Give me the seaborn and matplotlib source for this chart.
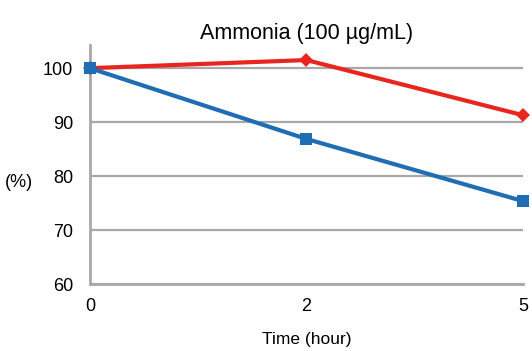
import matplotlib
matplotlib.use("Agg")
import matplotlib.pyplot as plt
import seaborn as sns
import pandas as pd

times = ["0", "2", "5"]
red_values = [100, 101.5, 91.3]
blue_values = [100, 86.9, 75.4]

df = pd.DataFrame({
    "Time": times * 2,
    "Value": red_values + blue_values,
    "Series": ["red"] * 3 + ["blue"] * 3,
})

sns.set_style("white")
plt.rcParams["font.family"] = ["Liberation Sans", "DejaVu Sans"]
plt.rcParams["text.color"] = "black"
plt.rcParams["axes.labelcolor"] = "black"

fig = plt.figure(figsize=(5.32, 3.51), dpi=100)
ax = fig.add_axes([0.169, 0.19, 0.814, 0.682])

sns.lineplot(data=df[df.Series == "red"], x="Time", y="Value", color="#e8251f",
             marker="D", markersize=7, markeredgewidth=0, linewidth=3, ax=ax, clip_on=False, zorder=4)
sns.lineplot(data=df[df.Series == "blue"], x="Time", y="Value", color="#1f6db5",
             marker="s", markersize=8, markeredgewidth=0, linewidth=3, ax=ax, clip_on=False, zorder=5)

ax.set_xlim(0, 2)
ax.set_ylim(60, 104.3)
ax.set_yticks([60, 70, 80, 90, 100])
ax.yaxis.grid(True, color="#a8a8a8", linewidth=1.6)
ax.set_axisbelow(True)
for s in ["top", "right"]:
    ax.spines[s].set_visible(False)
for s in ["left", "bottom"]:
    ax.spines[s].set_color("#a8a8a8")
    ax.spines[s].set_linewidth(2)
ax.tick_params(axis="both", length=0, labelsize=13, colors="black")
ax.tick_params(axis="y", pad=12)
ax.tick_params(axis="x", pad=10)
ax.set_title("Ammonia (100 µg/mL)", fontsize=15.5, pad=4, color="black")
ax.set_xlabel("Time (hour)", fontsize=12.5, labelpad=12, color="black")
ax.set_ylabel("(%)", fontsize=13, rotation=0, va="center", ha="center", color="black")
ax.yaxis.set_label_coords(-0.163, 0.427)

fig.savefig("out.png", dpi=100)
